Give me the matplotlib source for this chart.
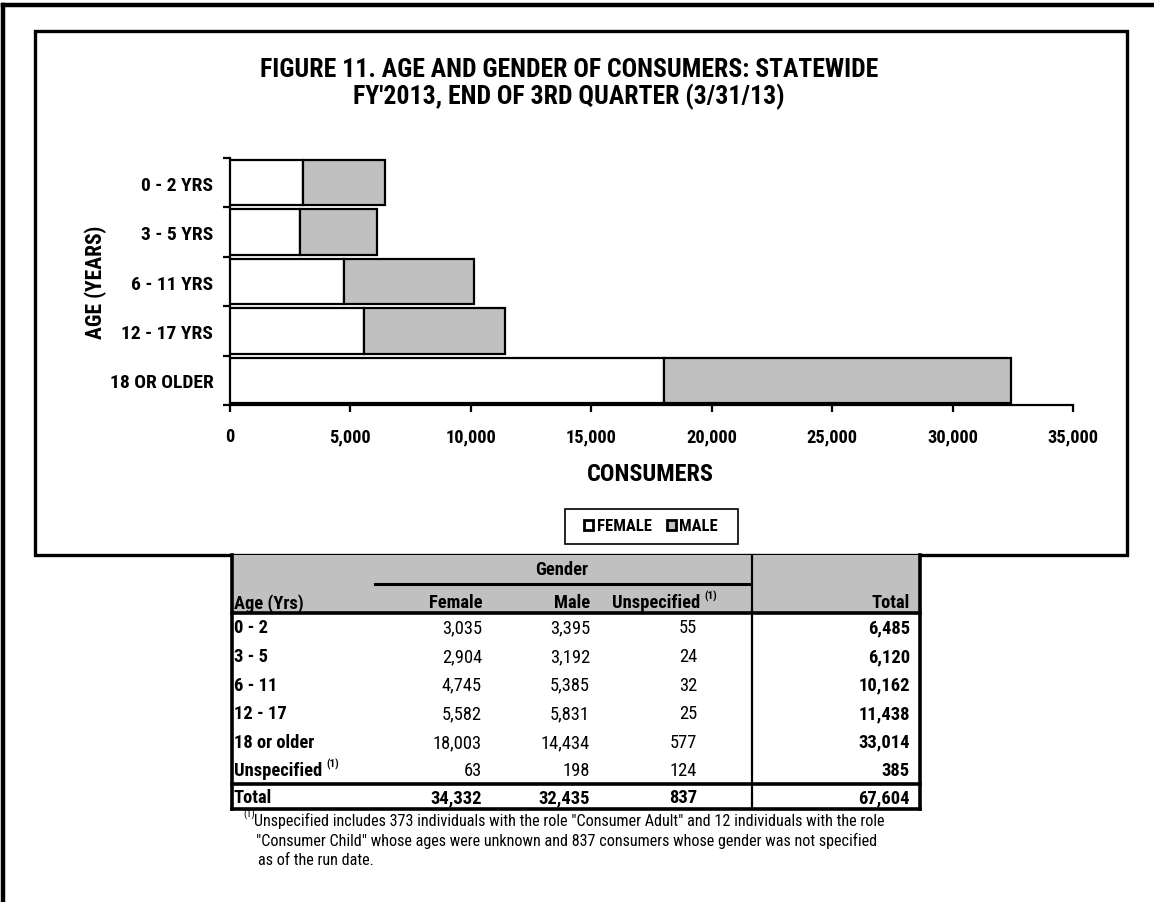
import matplotlib.pyplot as plt
import matplotlib.patches as mpatches
from matplotlib.ticker import FixedLocator, FuncFormatter

plt.rcParams['font.family'] = ['Liberation Sans Narrow', 'Roboto Condensed', 'Liberation Sans', 'DejaVu Sans']

# data
bar_ages = ['0 - 2 YRS', '3 - 5 YRS', '6 - 11 YRS', '12 - 17 YRS', '18 OR OLDER']
table_ages = ['0 - 2', '3 - 5', '6 - 11', '12 - 17', '18 or older', 'Unspecified']
female = [3035, 2904, 4745, 5582, 18003, 63]
male = [3395, 3192, 5385, 5831, 14434, 198]
unspecified = [55, 24, 32, 25, 577, 124]
x_ticks = [0, 5000, 10000, 15000, 20000, 25000, 30000, 35000]

W, H = 1154, 903
fig = plt.figure(figsize=(W / 100, H / 100), dpi=100)


def fx(px):
    return px / W


def fy(py):
    return 1 - py / H


# ---- chart axes ----
ax = fig.add_axes([fx(230), fy(406), fx(1073) - fx(230), fy(159) - fy(406)])
ax.set_facecolor('none')
n = len(bar_ages)
pos = list(range(n))
ax.barh(pos, female[:n], height=0.92, color='white', edgecolor='black', linewidth=1.6, zorder=3)
ax.barh(pos, male[:n], left=female[:n], height=0.92, color='#C0C0C0', edgecolor='black',
        linewidth=1.6, zorder=3)
ax.set_xlim(0, 35000)
ax.set_ylim(n - 0.5, -0.5)
for s in ['top', 'right']:
    ax.spines[s].set_visible(False)
for s in ['left', 'bottom']:
    ax.spines[s].set_linewidth(1.6)
ax.xaxis.set_major_locator(FixedLocator(x_ticks))
ax.xaxis.set_major_formatter(FuncFormatter(lambda v, p: f'{int(v):,}'))
ax.tick_params(axis='x', length=5, width=1.6, pad=11, labelsize=13.2)
ax.yaxis.set_major_locator(FixedLocator([p - 0.5 for p in range(n + 1)]))
ax.yaxis.set_major_formatter(FuncFormatter(lambda v, p: ''))
ax.yaxis.set_minor_locator(FixedLocator(pos))
ax.set_yticklabels(bar_ages, minor=True)
ax.tick_params(axis='y', which='major', length=5, width=1.6)
ax.tick_params(axis='y', which='minor', length=0, pad=12, labelsize=14)
for lab in ax.get_xticklabels() + ax.get_yticklabels(minor=True):
    lab.set_fontweight('bold')

# ---- overlay in pixel coordinates ----
ov = fig.add_axes([0, 0, 1, 1], zorder=-1)
ov.set_xlim(0, W)
ov.set_ylim(H, 0)
ov.axis('off')

# outer frame and chart box
ov.plot([3, W], [6, 6], color='black', lw=3.2)
ov.plot([3, 3], [6, H], color='black', lw=3.2)
ov.add_patch(mpatches.Rectangle((35, 32), 1127 - 35, 556 - 32, fill=False, edgecolor='black', lw=2.4))

ov.text(569, 70, 'FIGURE 11. AGE AND GENDER OF CONSUMERS: STATEWIDE', ha='center', va='center',
        fontsize=18.5, fontweight='bold')
ov.text(569, 97, "FY'2013, END OF 3RD QUARTER (3/31/13)", ha='center', va='center',
        fontsize=18.5, fontweight='bold')
ov.text(96, 282, 'AGE (YEARS)', ha='center', va='center', rotation=90, fontsize=15.5, fontweight='bold')
ov.text(650, 475, 'CONSUMERS', ha='center', va='center', fontsize=17.5, fontweight='bold')

# legend
ov.add_patch(mpatches.Rectangle((565, 510), 173, 35, fill=False, edgecolor='black', lw=1.2))
handles = [mpatches.Patch(facecolor='white', edgecolor='black', lw=2, label='FEMALE'),
           mpatches.Patch(facecolor='#C0C0C0', edgecolor='black', lw=2, label='MALE')]
leg = fig.legend(handles=handles, loc='center', bbox_to_anchor=(fx(651), fy(527)), ncol=2,
                 frameon=False, handlelength=0.55, handleheight=0.55, handletextpad=0.2,
                 columnspacing=0.9, prop={'weight': 'bold', 'size': 12})

# ---- table ----
tl, tr, tt, tb = 232, 920, 556, 810
ov.add_patch(mpatches.Rectangle((tl, tt), tr - tl, 613 - tt, facecolor='#C0C0C0', edgecolor='none'))
ov.plot([tl, tl], [tt, tb], color='black', lw=2.6)
ov.plot([tr, tr], [tt, tb], color='black', lw=2.6)
ov.plot([tl, tr], [tb, tb], color='black', lw=2.6)
ov.plot([tl, tr], [614, 614], color='black', lw=2.6)
ov.plot([tl, tr], [785, 785], color='black', lw=2.6)
ov.plot([752, 752], [tt, tb], color='black', lw=1.6)
ov.plot([375, 750], [585, 585], color='black', lw=2.2)

fs = 13.3
off = 6.5  # baseline offset from row centre
sup = dict(xytext=(3, 0), textcoords='offset points', ha='left', va='center', fontsize=8,
           fontweight='bold')
ov.text(562, 569 + off, 'Gender', ha='center', va='baseline', fontsize=fs, fontweight='bold')
ov.text(234, 602 + off, 'Age (Yrs)', ha='left', va='baseline', fontsize=fs, fontweight='bold')
ov.text(482, 602 + off, 'Female', ha='right', va='baseline', fontsize=fs, fontweight='bold')
ov.text(590, 602 + off, 'Male', ha='right', va='baseline', fontsize=fs, fontweight='bold')
hdr = ov.text(700, 602 + off, 'Unspecified', ha='right', va='baseline', fontsize=fs, fontweight='bold')
ov.annotate('(1)', xy=(1.0, 0.9), xycoords=hdr, **sup)
ov.text(910, 602 + off, 'Total', ha='right', va='baseline', fontsize=fs, fontweight='bold')

row_y = [627 + 28.6 * i for i in range(len(table_ages))]
for i, a in enumerate(table_ages):
    y = row_y[i] + off
    lab = ov.text(234, y, a, ha='left', va='baseline', fontsize=fs, fontweight='bold')
    if a == 'Unspecified':
        ov.annotate('(1)', xy=(1.0, 0.9), xycoords=lab, **sup)
    ov.text(482, y, f'{female[i]:,}', ha='right', va='baseline', fontsize=fs)
    ov.text(590, y, f'{male[i]:,}', ha='right', va='baseline', fontsize=fs)
    ov.text(697, y, f'{unspecified[i]:,}', ha='right', va='baseline', fontsize=fs)
    ov.text(910, y, f'{female[i] + male[i] + unspecified[i]:,}', ha='right', va='baseline',
            fontsize=fs, fontweight='bold')

ty = 797 + off
ov.text(234, ty, 'Total', ha='left', va='baseline', fontsize=fs, fontweight='bold')
ov.text(482, ty, f'{sum(female):,}', ha='right', va='baseline', fontsize=fs, fontweight='bold')
ov.text(590, ty, f'{sum(male):,}', ha='right', va='baseline', fontsize=fs, fontweight='bold')
ov.text(697, ty, f'{sum(unspecified):,}', ha='right', va='baseline', fontsize=fs, fontweight='bold')
ov.text(910, ty, f'{sum(female) + sum(male) + sum(unspecified):,}', ha='right', va='baseline',
        fontsize=fs, fontweight='bold')

# footnote
fn = 11.6
ov.text(243, 814, '(1)', ha='left', va='center', fontsize=7.5)
ov.text(254, 821, 'Unspecified includes 373 individuals with the role "Consumer Adult" and 12 individuals with the role',
        ha='left', va='center', fontsize=fn)
ov.text(256, 841, '"Consumer Child" whose ages were unknown and 837 consumers whose gender was not specified',
        ha='left', va='center', fontsize=fn)
ov.text(258, 861, 'as of the run date.', ha='left', va='center', fontsize=fn)

fig.savefig('out.png', dpi=100)
